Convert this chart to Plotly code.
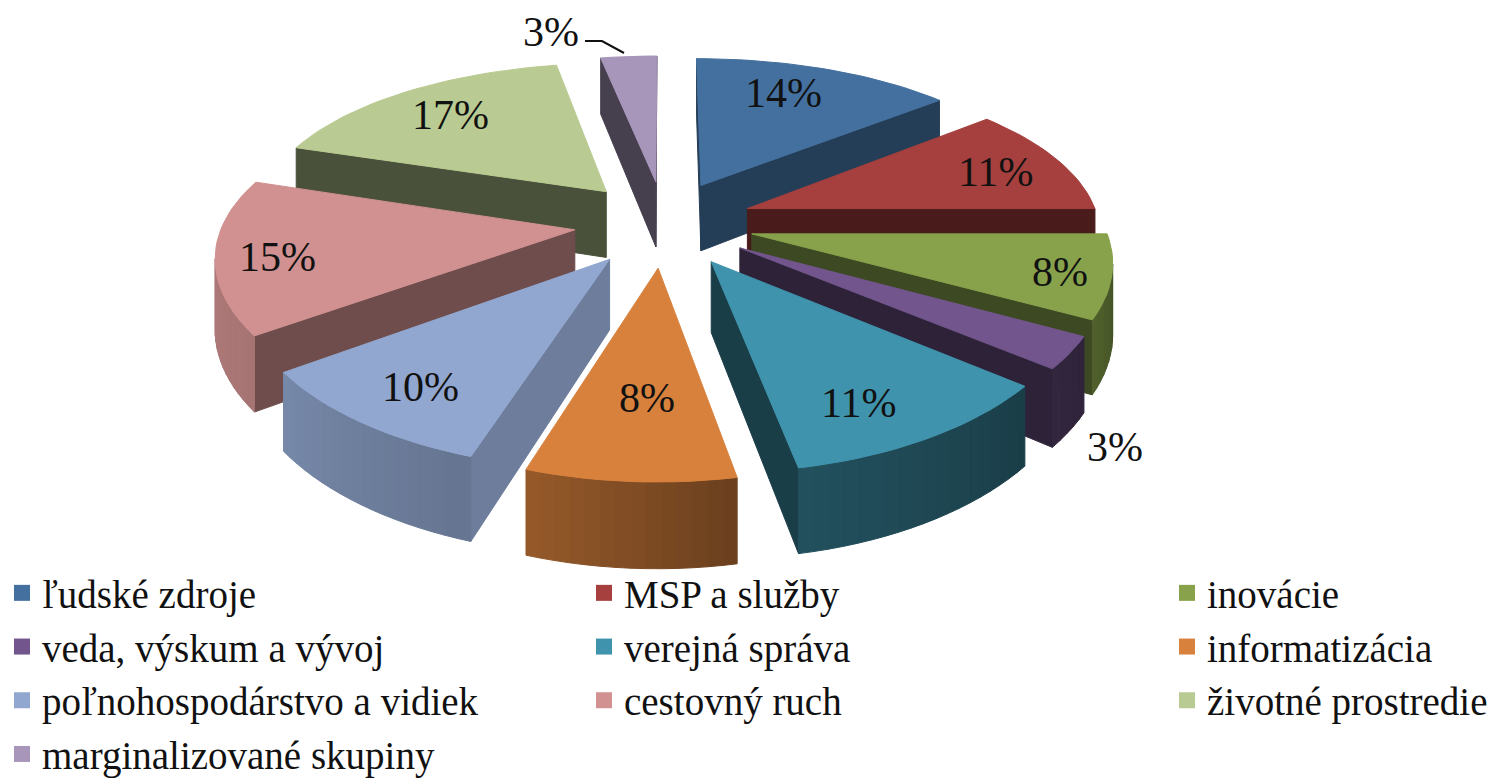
import math
import plotly.graph_objects as go

categories = ["ľudské zdroje", "MSP a služby", "inovácie", "veda, výskum a vývoj", "verejná správa",
              "informatizácia", "poľnohospodárstvo a vidiek", "cestovný ruch", "životné prostredie",
              "marginalizované skupiny"]
values = [14, 11, 8, 3, 11, 8, 10, 15, 17, 3]
colors = ["#44709f", "#a5403e", "#87a24b", "#71558c", "#3f93ac", "#d8813c", "#91a7cf", "#d09190", "#b9cb92", "#a795ba"]
radial_shade = [0.55, 0.44, 0.45, 0.40, 0.42, 0.5, 0.75, 0.53, 0.40, 0.42]
wall_start = [0.5, 0.5, 0.45, 0.42, 0.42, 0.5, 0.70, 0.80, 0.5, 0.5]
wall_end = [0.6, 0.6, 0.6, 0.45, 0.55, 0.70, 0.82, 0.88, 0.6, 0.6]
label_x = [783, 995, 1060, 1115, 858, 647, 420, 277, 450, 551]
label_y = [93, 172, 272, 447, 403, 398, 387, 257, 115, 32]

CX, CY, RX, RY, DEPTH = 664, 223, 352, 160, 68
PERSP_X, PERSP_Y, EXPLODE_U, EXPLODE_V = 0.14, 0.17, 0.255, 0.27
W, H = 1508, 778


def project(u, v, z):
    fx = 1 / (1 - PERSP_X * v)
    fy = 1 / (1 - PERSP_Y * v)
    return CX + RX * u * fx, CY + (RY * v + DEPTH * z) * fy


def scale(hexc, k):
    return "rgb({},{},{})".format(*(round(int(hexc[i:i + 2], 16) * k) for i in (1, 3, 5)))


def poly(pts, color):
    xs = [p[0] for p in pts] + [pts[0][0]]
    ys = [p[1] for p in pts] + [pts[0][1]]
    return go.Scatter(x=xs, y=ys, mode="lines", fill="toself", fillcolor=color, hoverinfo="skip",
                      line=dict(color=color, width=1), showlegend=False)


def front_facing(pts):
    a = sum(pts[i][0] * pts[(i + 1) % len(pts)][1] - pts[(i + 1) % len(pts)][0] * pts[i][1] for i in range(len(pts)))
    return a < 0


slices = []
total = sum(values)
cum = 0
for i, val in enumerate(values):
    a0 = 2 * math.pi * cum / total
    a1 = 2 * math.pi * (cum + val) / total
    cum += val
    mid = (a0 + a1) / 2
    ou, ov = EXPLODE_U * math.sin(mid), -EXPLODE_V * math.cos(mid)
    slices.append((ov, i, a0, a1, ou))

traces = []
for ov, i, a0, a1, ou in sorted(slices):
    n = max(4, int((a1 - a0) / math.radians(2)))
    rim = [(ou + math.sin(a0 + (a1 - a0) * j / n), ov - math.cos(a0 + (a1 - a0) * j / n)) for j in range(n + 1)]
    apex = (ou, ov)
    col = colors[i]
    for a, b in ((apex, rim[0]), (rim[-1], apex)):
        q = [project(*a, 0), project(*b, 0), project(*b, 1), project(*a, 1)]
        if front_facing(q):
            traces.append(poly(q, scale(col, radial_shade[i])))
    for j in range(n):
        a, b = rim[j], rim[j + 1]
        q = [project(*a, 0), project(*b, 0), project(*b, 1), project(*a, 1)]
        if front_facing(q):
            k = wall_start[i] + (wall_end[i] - wall_start[i]) * j / n
            traces.append(poly(q, scale(col, k)))
    traces.append(poly([project(*apex, 0)] + [project(*p, 0) for p in rim], col))

fig = go.Figure(traces)

# legend entries: three columns, filled row by row
legend_ids = ["legend", "legend2", "legend3"]
for i, (name, col) in enumerate(zip(categories, colors)):
    fig.add_trace(go.Scatter(x=[None], y=[None], mode="markers", name=name, legend=legend_ids[i % 3 if i < 9 else 0],
                             marker=dict(symbol="square", size=20, color=col)))

for val, x, y in zip(values, label_x, label_y):
    fig.add_annotation(x=x, y=y, text=f"{val}%", showarrow=False, xref="x", yref="y",
                       font=dict(family="Liberation Serif", size=42, color="#111111"))

fig.add_shape(type="path", path="M 585 41 L 602 41 L 624 53", xref="x", yref="y",
              line=dict(color="#111111", width=2))


def legend_at(x):
    return dict(orientation="v", x=x, y=1 - 561 / H, xanchor="left", yanchor="top", itemwidth=30,
                bgcolor="rgba(0,0,0,0)", font=dict(family="Liberation Serif", size=39, color="#111111"))


fig.update_layout(
    width=W, height=H, margin=dict(l=0, r=0, t=0, b=0, autoexpand=False), paper_bgcolor="white", plot_bgcolor="white",
    xaxis=dict(range=[0, W], visible=False, fixedrange=True),
    yaxis=dict(range=[H, 0], visible=False, fixedrange=True),
    legend=legend_at(2 / W), legend2=legend_at(584 / W), legend3=legend_at(1167 / W),
)
fig.write_html("out.html", config={"displayModeBar": False},
               post_script="document.body.style.margin='0';document.body.style.overflow='hidden';")
